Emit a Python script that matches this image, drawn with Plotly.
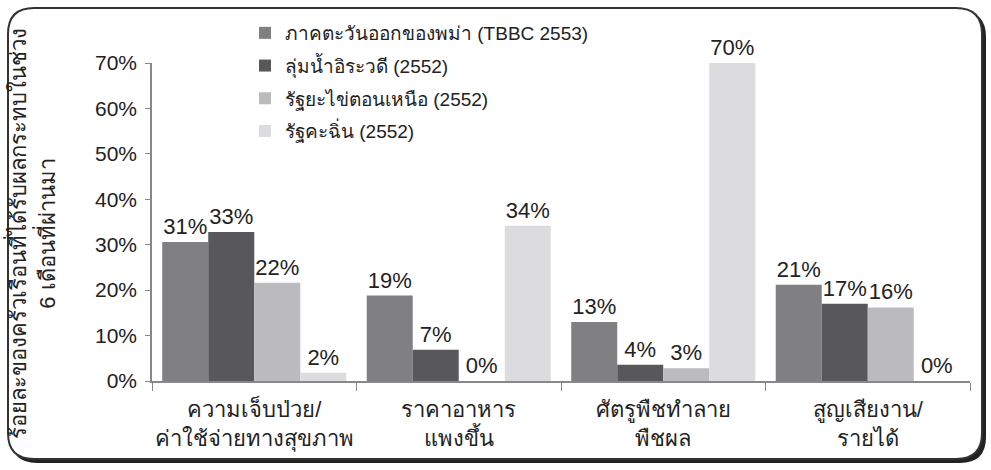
import plotly.graph_objects as go

categories = ["ความเจ็บป่วย/<br>ค่าใช้จ่ายทางสุขภาพ", "ราคาอาหาร<br>แพงขึ้น", "ศัตรูพืชทำลาย<br>พืชผล", "สูญเสียงาน/<br>รายได้"]
series_names = ["ภาคตะวันออกของพม่า (TBBC 2553)", "ลุ่มน้ำอิระวดี (2552)", "รัฐยะไข่ตอนเหนือ (2552)", "รัฐคะฉิ่น (2552)"]
s1 = [30.6, 18.8, 13.0, 21.2]
s2 = [32.8, 6.9, 3.6, 17.0]
s3 = [21.6, 0.0, 2.8, 16.2]
s4 = [1.8, 34.2, 70.0, 0.0]
colors = ["#808083", "#58585b", "#bbbbbe", "#dcdcdf"]
y_ticks = [0, 10, 20, 30, 40, 50, 60, 70]
y_title = "ร้อยละของครัวเรือนที่ได้รับผลกระทบในช่วง<br>6 เดือนที่ผ่านมา"

W, H = 991, 470
L, R, T, B = 152, 21, 63, 89
pw, ph = W - L - R, H - T - B

def px(x):
    return (x - L) / pw

def py(y):
    return (H - B - y) / ph

def rrect(x0, y0, x1, y1, r):
    p = []
    p.append(f"M {px(x0 + r)} {py(y0)}")
    p.append(f"L {px(x1 - r)} {py(y0)}")
    p.append(f"Q {px(x1)} {py(y0)} {px(x1)} {py(y0 + r)}")
    p.append(f"L {px(x1)} {py(y1 - r)}")
    p.append(f"Q {px(x1)} {py(y1)} {px(x1 - r)} {py(y1)}")
    p.append(f"L {px(x0 + r)} {py(y1)}")
    p.append(f"Q {px(x0)} {py(y1)} {px(x0)} {py(y1 - r)}")
    p.append(f"L {px(x0)} {py(y0 + r)}")
    p.append(f"Q {px(x0)} {py(y0)} {px(x0 + r)} {py(y0)}")
    p.append("Z")
    return " ".join(p)

fig = go.Figure()
for i, vals in enumerate([s1, s2, s3, s4]):
    fig.add_trace(go.Bar(
        x=categories, y=vals, name=series_names[i],
        marker=dict(color=colors[i], line=dict(width=0)),
        texttemplate="%{y:.0f}%", textposition="outside",
        textfont=dict(size=22, color="#222222"),
        cliponaxis=False, legendgroup=f"g{i}",
    ))

font_family = "Liberation Sans, Arial, sans-serif"
fig.update_layout(
    width=W, height=H,
    margin=dict(l=L, r=R, t=T, b=B, autoexpand=False),
    paper_bgcolor="white", plot_bgcolor="rgba(0,0,0,0)",
    barmode="group", bargap=0.1, bargroupgap=0,
    font=dict(family=font_family, color="#222222"),
    showlegend=True,
    legend=dict(x=px(245), y=py(14), xanchor="left", yanchor="top",
                font=dict(size=19, color="#222222"), tracegroupgap=5,
                bgcolor="rgba(0,0,0,0)"),
    xaxis=dict(showline=True, linecolor="#888888", linewidth=1.5,
               ticks="outside", tickson="boundaries", ticklen=8, tickcolor="#888888",
               tickangle=0, ticklabelstandoff=8,
               tickfont=dict(size=22, color="#222222"), showgrid=False),
    yaxis=dict(range=[0, 70], tickvals=y_ticks, ticktext=[f"{v}%" for v in y_ticks],
               showline=True, linecolor="#888888", linewidth=1.5,
               ticks="outside", ticklen=5, tickcolor="#888888", ticklabelstandoff=4,
               tickfont=dict(size=21, color="#222222"), showgrid=False, zeroline=False),
    annotations=[dict(text=y_title, textangle=-90, xref="paper", yref="paper",
                      x=px(31), y=py(234), xanchor="center", yanchor="middle",
                      showarrow=False, font=dict(size=22, color="#222222"))],
    shapes=[
        dict(type="path", xref="paper", yref="paper", path=rrect(11, 11, 986, 463, 26),
             fillcolor="#222222", line=dict(width=0), layer="below"),
        dict(type="path", xref="paper", yref="paper", path=rrect(8, 8, 982, 459, 26),
             fillcolor="white", line=dict(color="#333333", width=2), layer="below"),
    ],
)
fig.write_html("out.html", config={"displayModeBar": False},
               post_script="document.body.style.margin='0';")
